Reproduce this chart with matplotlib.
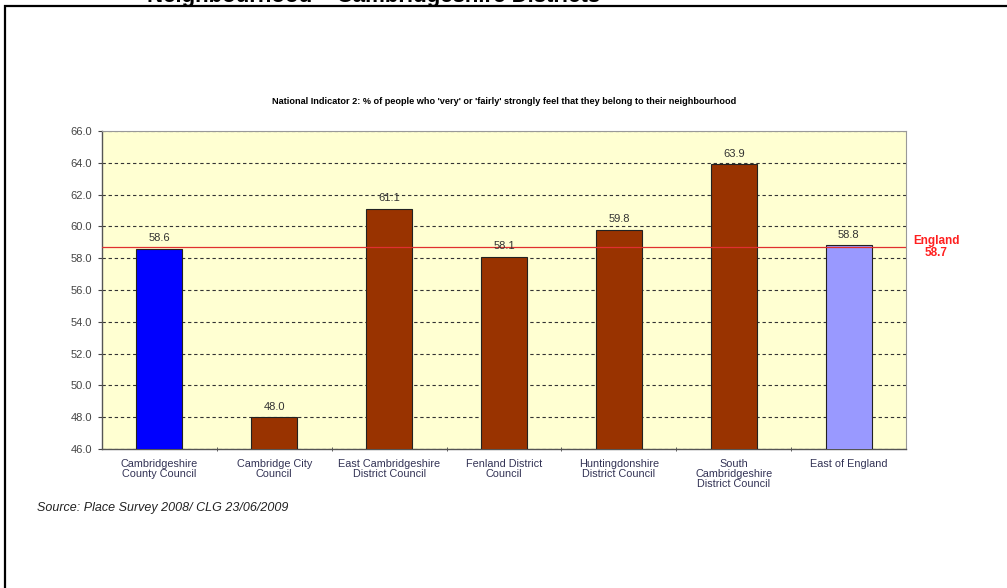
import matplotlib.pyplot as plt
from matplotlib.patches import Rectangle

plt.rcParams['font.family'] = ['Liberation Sans', 'DejaVu Sans']

categories = ['Cambridgeshire\nCounty Council', 'Cambridge City\nCouncil',
              'East Cambridgeshire\nDistrict Council', 'Fenland District\nCouncil',
              'Huntingdonshire\nDistrict Council', 'South\nCambridgeshire\nDistrict Council',
              'East of England']
values = [58.6, 48.0, 61.1, 58.1, 59.8, 63.9, 58.8]
bar_colors = ['#0000FF', '#993300', '#993300', '#993300', '#993300', '#993300', '#9999FF']
england_value = 58.7
y_ticks = [46, 48, 50, 52, 54, 56, 58, 60, 62, 64, 66]

fig = plt.figure(figsize=(10.07, 5.88), dpi=100)

# outer document frame and the heading that is cut off at the top
fig.patches.append(Rectangle((5 / 1007, -0.1), 1.2, 1.1 - 6.5 / 588, transform=fig.transFigure,
                             fill=False, edgecolor='black', linewidth=1.6))
fig.text(147 / 1007, 1 - 2 / 588, 'Neighbourhood \u2013 Cambridgeshire Districts',
         fontsize=16, fontweight='bold', ha='left', va='baseline')

ax = fig.add_axes([102 / 1007, 1 - 449 / 588, 804 / 1007, 318 / 588])
ax.set_facecolor('#FFFFD2')

x = list(range(len(categories)))
ax.bar(x, values, width=0.4, color=bar_colors, edgecolor='#222222', linewidth=0.8, zorder=3)
ax.set_ylim(46, 66)
ax.set_xlim(-0.5, len(categories) - 0.5)

ax.set_yticks(y_ticks)
ax.set_yticklabels([f'{t:.1f}' for t in y_ticks], fontsize=8, color='#444444')
ax.grid(axis='y', color='#333333', linestyle=(0, (3, 2.5)), linewidth=0.8, zorder=1)
ax.set_axisbelow(True)

ax.set_xticks([i + 0.5 for i in x[:-1]], minor=True)
ax.set_xticks(x)
ax.set_xticklabels(categories, fontsize=7.8, color='#333355', linespacing=1.0, va='top')
ax.tick_params(axis='x', which='major', length=0, pad=7)
ax.tick_params(axis='x', which='minor', length=3, direction='inout', color='#444444')
ax.tick_params(axis='y', length=3, direction='out', color='#444444', pad=4)

for s in ['top', 'right']:
    ax.spines[s].set_color('#999999')
    ax.spines[s].set_linewidth(0.8)
for s in ['left', 'bottom']:
    ax.spines[s].set_color('#555555')
    ax.spines[s].set_linewidth(1.0)

ax.axhline(england_value, color='#E03030', linewidth=0.9, zorder=4)
ax.text(1.0 + 30 / 804, england_value, 'England\n%.1f' % england_value, transform=ax.get_yaxis_transform(),
        color='#FF2020', fontsize=8.5, fontweight='bold', ha='center', va='center', linespacing=1.0)

for xi, v in zip(x, values):
    ax.text(xi, v + 0.35, f'{v:.1f}', ha='center', va='bottom', fontsize=8, color='#333333', zorder=5)

fig.text(0.5 * (102 + 906) / 1007, 1 - 101 / 588,
         "National Indicator 2: % of people who 'very' or 'fairly' strongly feel that they belong to their neighbourhood",
         fontsize=6.6, fontweight='bold', ha='center', va='center')
fig.text(37 / 1007, 1 - 508 / 588, 'Source: Place Survey 2008/ CLG 23/06/2009',
         fontsize=9, style='italic', ha='left', va='center', color='#222222')

fig.savefig('out.png', dpi=100)
